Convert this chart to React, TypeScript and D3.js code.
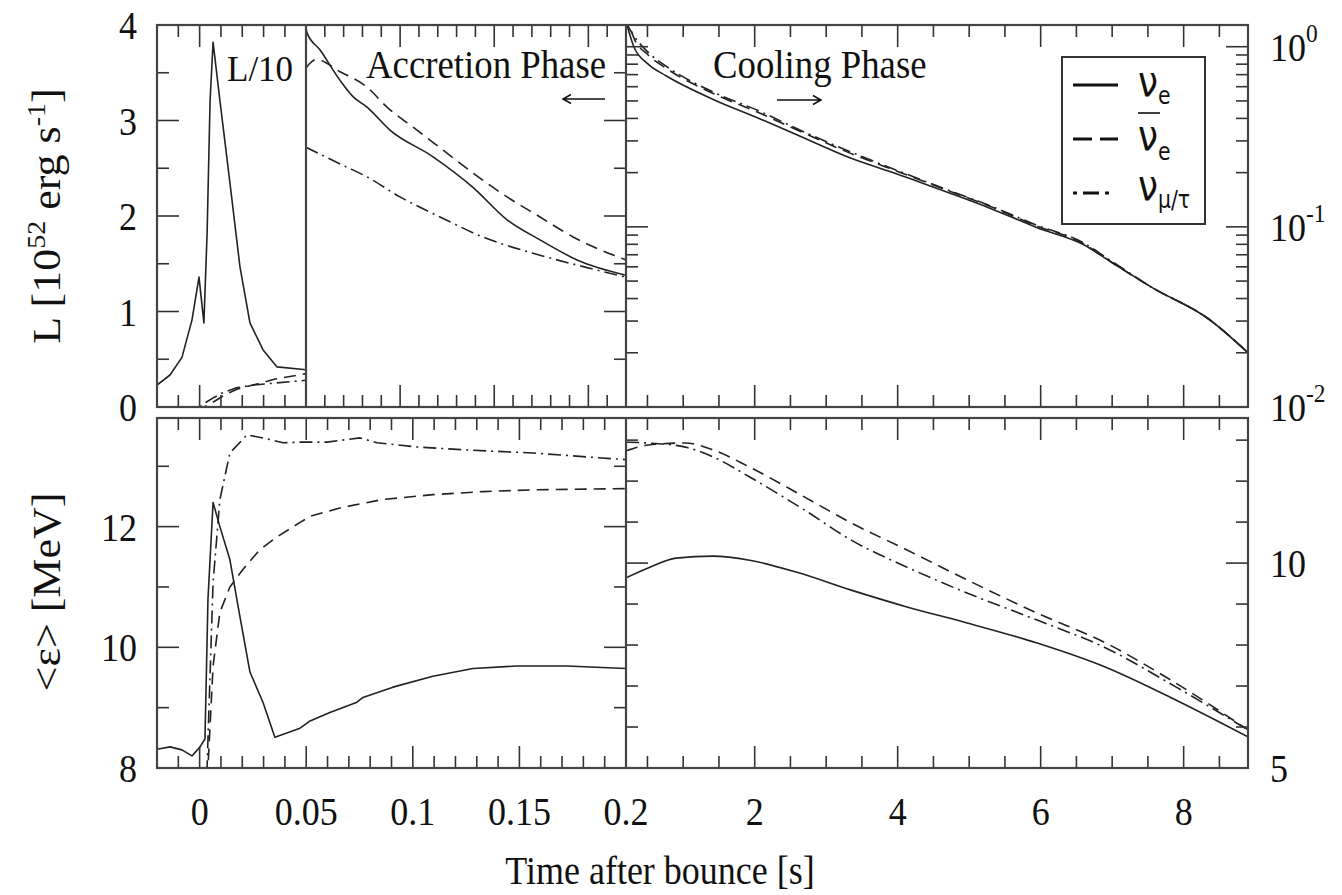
import React from "react";
import * as d3 from "d3";

// ---------------- data ----------------
// Top-left panel (L/10), t [s], L/10 in 1e52 erg/s
const tlNueT = [-0.02, -0.0139, -0.0083, -0.0036, -0.0003, 0.002, 0.0035, 0.0049, 0.0063, 0.0095, 0.0142, 0.0189, 0.0236, 0.0297, 0.0363, 0.05];
const tlNueL = [0.23, 0.335, 0.52, 0.91, 1.36, 0.88, 1.82, 3.21, 3.82, 3.21, 2.35, 1.47, 0.88, 0.6, 0.42, 0.39];
const tlAnueT = [-0.02, 0.002, 0.004, 0.007, 0.012, 0.018, 0.025, 0.035, 0.05];
const tlAnueL = [0, 0, 0.02, 0.06, 0.13, 0.19, 0.23, 0.29, 0.35];
const tlNuxT = [-0.02, 0.0, 0.003, 0.006, 0.01, 0.017, 0.025, 0.035, 0.05];
const tlNuxL = [0, 0, 0.05, 0.09, 0.14, 0.2, 0.23, 0.25, 0.28];

// Top-middle panel (accretion phase)
const tmNueT = [0.05, 0.0505, 0.0574, 0.0681, 0.075, 0.0824, 0.0946, 0.1175, 0.1387, 0.1568, 0.1743, 0.194, 0.22];
const tmNueL = [3.97, 3.92, 3.74, 3.42, 3.25, 3.14, 2.9, 2.62, 2.3, 1.96, 1.75, 1.54, 1.38];
const tmAnueT = [0.05, 0.0521, 0.0555, 0.0681, 0.0824, 0.093, 0.1069, 0.1228, 0.1387, 0.1568, 0.1743, 0.1919, 0.22];
const tmAnueL = [3.55, 3.6, 3.64, 3.51, 3.35, 3.14, 2.93, 2.69, 2.45, 2.2, 1.99, 1.78, 1.54];
const tmNuxT = [0.05, 0.0697, 0.0824, 0.0999, 0.1212, 0.144, 0.1706, 0.1972, 0.22];
const tmNuxL = [2.72, 2.53, 2.41, 2.2, 1.99, 1.78, 1.61, 1.47, 1.36];

// Top-right panel (cooling phase, log axis)
const trT = [0.2, 0.31, 0.51, 0.76, 1.42, 2.06, 2.7, 3.35, 4.0, 4.65, 5.29, 5.95, 6.59, 6.98, 7.56, 8.34, 8.9];
const trNueL = [1.38, 1.0, 0.8, 0.69, 0.51, 0.4, 0.31, 0.24, 0.196, 0.158, 0.127, 0.099, 0.08, 0.064, 0.046, 0.031, 0.02];
const trAnueL = [1.54, 1.12, 0.9, 0.76, 0.55, 0.43, 0.33, 0.255, 0.203, 0.162, 0.13, 0.101, 0.081, 0.064, 0.046, 0.031, 0.02];
const trNuxL = [1.36, 1.15, 0.93, 0.78, 0.56, 0.44, 0.335, 0.26, 0.205, 0.163, 0.131, 0.102, 0.082, 0.065, 0.046, 0.031, 0.02];

// Bottom-left panel (mean energy, MeV)
const blNueT = [-0.02, -0.0139, -0.0083, -0.0036, 0.0002, 0.0025, 0.0039, 0.0063, 0.0095, 0.0142, 0.0189, 0.0236, 0.0297, 0.0353, 0.0471, 0.0518, 0.0611, 0.0738, 0.0766, 0.0907, 0.1094, 0.1282, 0.1488, 0.1723, 0.2];
const blNueE = [8.31, 8.35, 8.3, 8.2, 8.35, 8.48, 10.79, 12.4, 12.0, 11.45, 10.51, 9.59, 9.09, 8.51, 8.66, 8.78, 8.92, 9.09, 9.17, 9.34, 9.52, 9.65, 9.69, 9.69, 9.65];
const blAnueT = [0.0025, 0.0039, 0.0063, 0.0095, 0.0142, 0.0203, 0.0283, 0.0363, 0.0471, 0.0518, 0.0658, 0.086, 0.1094, 0.1329, 0.1564, 0.2];
const blAnueE = [7.5, 8.0, 9.69, 10.58, 11.0, 11.29, 11.62, 11.83, 12.07, 12.17, 12.31, 12.45, 12.53, 12.58, 12.61, 12.63];
const blNuxT = [0.002, 0.0035, 0.0063, 0.0095, 0.0142, 0.0222, 0.0297, 0.0391, 0.0471, 0.0597, 0.0752, 0.0832, 0.102, 0.1254, 0.1564, 0.1798, 0.2];
const blNuxE = [7.5, 8.03, 11.07, 12.45, 13.22, 13.52, 13.47, 13.39, 13.4, 13.4, 13.47, 13.39, 13.32, 13.27, 13.22, 13.16, 13.11];

// Bottom-right panel
const brNueT = [0.2, 0.51, 0.9, 1.42, 1.93, 2.58, 3.35, 4.13, 4.97, 5.95, 6.91, 7.89, 8.9];
const brNueE = [9.64, 9.88, 10.12, 10.17, 10.07, 9.78, 9.34, 8.93, 8.54, 8.05, 7.46, 6.66, 5.76];
const brAnueT = [0.2, 0.51, 1.03, 1.42, 1.93, 2.7, 3.35, 4.13, 4.97, 5.95, 6.91, 7.89, 8.9];
const brAnueE = [12.74, 12.88, 12.93, 12.76, 12.34, 11.61, 10.98, 10.32, 9.59, 8.78, 8.05, 7.07, 5.93];
const brNuxT = [0.2, 0.51, 1.03, 1.42, 1.93, 2.7, 3.35, 4.13, 4.97, 5.95, 6.91, 7.89, 8.9];
const brNuxE = [12.95, 12.93, 12.83, 12.59, 12.1, 11.29, 10.56, 9.9, 9.27, 8.61, 7.93, 6.98, 5.93];

// tick labels
const lumTickLabels = [0, 1, 2, 3, 4];
const logTickExps = [0, -1, -2];
const eLeftTickLabels = [8, 10, 12];
const eRightTickLabels = [10, 5];
const xLeftTickLabels = ["0", "0.05", "0.1", "0.15", "0.2"];
const xLeftTickValues = [0, 0.05, 0.1, 0.15, 0.2];
const xRightTickLabels = [2, 4, 6, 8];

// ---------------- layout ----------------
const W = 1342, H = 895;
const X0 = 157, X1 = 306, X2 = 626, X3 = 1248;
const TY0 = 25, TY1 = 407, BY0 = 418, BY1 = 768;

const xLeft = d3.scaleLinear().domain([-0.02, 0.2]).range([X0, X2]);
const xMid = d3.scaleLinear().domain([0.05, 0.22]).range([X1, X2]);
const xRight = d3.scaleLinear().domain([0.2, 8.9]).range([X2, X3]);
const yLum = d3.scaleLinear().domain([0, 4]).range([TY1, TY0]);
const yLog = d3.scaleLog().domain([0.01, 1.32]).range([TY1, TY0]);
const yEL = d3.scaleLinear().domain([8, 13.8]).range([BY1, BY0]);
const yER = d3.scaleLinear().domain([5, 13.54]).range([BY1, BY0]);

const serif = "'Liberation Serif','Times New Roman',Times,serif";
const sans = "'DejaVu Sans','Liberation Sans',sans-serif";
const INK = "#111";
const LINE = "#222";
const DASH = "12,7";
const DASHDOT = "13,5,2,5";
const MAJ = 22, MIN = 12;

function path(ts: number[], vs: number[], xs: any, ys: any, curve: any) {
  const g = d3.line<number>().x((_, i) => xs(ts[i])).y((_, i) => ys(vs[i])).curve(curve);
  return g(ts) || "";
}

function Txt(props: any) {
  const { x, y, size = 40, anchor = "middle", sx = 0.9, rot = 0, fam = serif, children } = props;
  return (
    <text
      transform={`translate(${x},${y}) scale(${sx},1)${rot ? ` rotate(${rot})` : ""}`}
      fontSize={size}
      textAnchor={anchor}
      fontFamily={fam}
      fill={INK}
    >
      {children}
    </text>
  );
}

export default function App() {
  // x ticks
  const leftTicks = d3.range(-1, 20).map((i) => ({ v: i / 100, major: i % 5 === 0 }));
  const tlTicks = leftTicks.filter((d) => d.v < 0.045);
  const midTicks = d3.range(6, 22).map((i) => ({ v: i / 100, major: i % 5 === 0 }));
  const rightTicks = d3.range(1, 18).map((i) => ({ v: i / 2, major: i % 4 === 0 }));
  // y ticks
  const lumTicks = d3.range(1, 8).map((i) => ({ v: i / 2, major: i % 2 === 0 }));
  const logTicks = [
    ...d3.range(2, 10).map((k) => ({ v: k * 0.01, major: false })),
    { v: 0.1, major: true },
    ...d3.range(2, 10).map((k) => ({ v: k * 0.1, major: false })),
    { v: 1, major: true },
  ];
  const eLTicks = [9, 10, 11, 12, 13].map((v) => ({ v, major: v % 2 === 0 }));
  const eRTicks = d3.range(6, 14).map((v) => ({ v, major: v === 10 }));

  const xTickLines = (ticks: any[], xs: any, top: number, bot: number, key: string) =>
    ticks.map((d, i) => {
      const x = xs(d.v);
      const L = d.major ? MAJ : MIN;
      return (
        <g key={key + i}>
          <line x1={x} x2={x} y1={top} y2={top + L} />
          <line x1={x} x2={x} y1={bot} y2={bot - L} />
        </g>
      );
    });
  const yTickLines = (ticks: any[], ys: any, xEdge: number, dir: number, key: string) =>
    ticks.map((d, i) => {
      const y = ys(d.v);
      const L = d.major ? MAJ : MIN;
      return <line key={key + i} x1={xEdge} x2={xEdge + dir * L} y1={y} y2={y} />;
    });

  const lin = d3.curveLinear;
  const mono = d3.curveMonotoneX;

  return (
    <svg width={W} height={H} style={{ position: "absolute", left: 0, top: 0, background: "#fff" }}>
      <defs>
        <clipPath id="cTL"><rect x={X0} y={TY0} width={X1 - X0} height={TY1 - TY0} /></clipPath>
        <clipPath id="cTM"><rect x={X1} y={TY0} width={X2 - X1} height={TY1 - TY0} /></clipPath>
        <clipPath id="cTR"><rect x={X2} y={TY0} width={X3 - X2} height={TY1 - TY0} /></clipPath>
        <clipPath id="cBL"><rect x={X0} y={BY0} width={X2 - X0} height={BY1 - BY0} /></clipPath>
        <clipPath id="cBR"><rect x={X2} y={BY0} width={X3 - X2} height={BY1 - BY0} /></clipPath>
      </defs>
      <rect x={0} y={0} width={W} height={H} fill="#fff" />

      {/* curves */}
      <g fill="none" stroke={LINE} strokeWidth={1.6} strokeLinejoin="round">
        <g clipPath="url(#cTL)">
          <path d={path(tlNueT, tlNueL, xLeft, yLum, lin)} />
          <path d={path(tlAnueT, tlAnueL, xLeft, yLum, lin)} strokeDasharray={DASH} />
          <path d={path(tlNuxT, tlNuxL, xLeft, yLum, lin)} strokeDasharray={DASHDOT} />
        </g>
        <g clipPath="url(#cTM)">
          <path d={path(tmNueT, tmNueL, xMid, yLum, mono)} />
          <path d={path(tmAnueT, tmAnueL, xMid, yLum, mono)} strokeDasharray={DASH} />
          <path d={path(tmNuxT, tmNuxL, xMid, yLum, mono)} strokeDasharray={DASHDOT} />
        </g>
        <g clipPath="url(#cTR)">
          <path d={path(trT, trNueL, xRight, yLog, mono)} />
          <path d={path(trT, trAnueL, xRight, yLog, mono)} strokeDasharray={DASH} />
          <path d={path(trT, trNuxL, xRight, yLog, mono)} strokeDasharray={DASHDOT} />
        </g>
        <g clipPath="url(#cBL)">
          <path d={path(blNueT, blNueE, xLeft, yEL, lin)} />
          <path d={path(blAnueT, blAnueE, xLeft, yEL, lin)} strokeDasharray={DASH} />
          <path d={path(blNuxT, blNuxE, xLeft, yEL, lin)} strokeDasharray={DASHDOT} />
        </g>
        <g clipPath="url(#cBR)">
          <path d={path(brNueT, brNueE, xRight, yER, mono)} />
          <path d={path(brAnueT, brAnueE, xRight, yER, mono)} strokeDasharray={DASH} />
          <path d={path(brNuxT, brNuxE, xRight, yER, mono)} strokeDasharray={DASHDOT} />
        </g>
      </g>

      {/* ticks */}
      <g stroke="#333" strokeWidth={1.6}>
        {xTickLines(tlTicks, xLeft, TY0, TY1, "tl")}
        {xTickLines(midTicks, xMid, TY0, TY1, "tm")}
        {xTickLines(rightTicks, xRight, TY0, TY1, "tr")}
        {xTickLines(leftTicks, xLeft, BY0, BY1, "bl")}
        {xTickLines(rightTicks, xRight, BY0, BY1, "br")}
        {yTickLines(lumTicks, yLum, X0, 1, "yl1")}
        {yTickLines(lumTicks, yLum, X2, -1, "yl2")}
        {yTickLines(logTicks, yLog, X2, 1, "yg1")}
        {yTickLines(logTicks, yLog, X3, -1, "yg2")}
        {yTickLines(eLTicks, yEL, X0, 1, "ye1")}
        {yTickLines(eLTicks, yEL, X2, -1, "ye2")}
        {yTickLines(eRTicks, yER, X2, 1, "yr1")}
        {yTickLines(eRTicks, yER, X3, -1, "yr2")}
      </g>

      {/* frames */}
      <g fill="none" stroke="#444" strokeWidth={2.2}>
        <rect x={X0} y={TY0} width={X3 - X0} height={TY1 - TY0} />
        <line x1={X1} x2={X1} y1={TY0} y2={TY1} />
        <line x1={X2} x2={X2} y1={TY0} y2={TY1} />
        <rect x={X0} y={BY0} width={X3 - X0} height={BY1 - BY0} />
        <line x1={X2} x2={X2} y1={BY0} y2={BY1} />
      </g>

      {/* y tick labels */}
      {lumTickLabels.map((v) => (
        <Txt key={"ll" + v} x={137} y={yLum(v) + 14} anchor="end">{v}</Txt>
      ))}
      {eLeftTickLabels.map((v) => (
        <Txt key={"el" + v} x={137} y={yEL(v) + 14} anchor="end">{v}</Txt>
      ))}
      {logTickExps.map((e) => (
        <Txt key={"lg" + e} x={1270} y={yLog(Math.pow(10, e)) + 14} anchor="start">
          10<tspan dy={-19} fontSize={26}>{e}</tspan>
        </Txt>
      ))}
      {eRightTickLabels.map((v) => (
        <Txt key={"er" + v} x={1270} y={yER(v) + 14} anchor="start">{v}</Txt>
      ))}

      {/* x tick labels */}
      {xLeftTickValues.map((v, i) => (
        <Txt key={"xl" + i} x={xLeft(v)} y={825}>{xLeftTickLabels[i]}</Txt>
      ))}
      {xRightTickLabels.map((v) => (
        <Txt key={"xr" + v} x={xRight(v)} y={825}>{v}</Txt>
      ))}

      {/* axis titles */}
      <Txt x={660} y={884}>Time after bounce [s]</Txt>
      <Txt x={60} y={216} rot={-90} size={44}>
        L [10<tspan dy={-17} fontSize={28}>52</tspan>
        <tspan dy={17}> erg s</tspan>
        <tspan dy={-17} fontSize={28}>-1</tspan>
        <tspan dy={17}>]</tspan>
      </Txt>
      <Txt x={60} y={592} rot={-90} size={44}>&lt;ε&gt; [MeV]</Txt>

      {/* annotations */}
      <Txt x={227} y={81} anchor="start" size={35} sx={1}>L/10</Txt>
      <Txt x={366} y={78} anchor="start" sx={0.92}>Accretion Phase</Txt>
      <Txt x={713} y={78} anchor="start" sx={0.92}>Cooling Phase</Txt>
      <g stroke={INK} strokeWidth={1.5} fill="none">
        <path d="M605,99 L563,99 M571,94.5 L563,99 L571,103.5" />
        <path d="M777,100 L821,100 M813,95.5 L821,100 L813,104.5" />
      </g>

      {/* legend */}
      <rect x={1062} y={57} width={143} height={167} fill="#fff" stroke="#333" strokeWidth={2} />
      <g stroke="#111" strokeWidth={3}>
        <line x1={1073} x2={1118} y1={85} y2={85} />
        <line x1={1073} x2={1118} y1={139} y2={139} strokeDasharray="19,8" />
        <line x1={1073} x2={1118} y1={193} y2={193} strokeDasharray="4,6,16,6,4,40" />
      </g>
      <Txt x={1138} y={96} anchor="start" size={42} sx={0.85} fam={sans}>
        ν<tspan dy={8} fontSize={24}>e</tspan>
      </Txt>
      <line x1={1138} x2={1160} y1={113} y2={113} stroke="#111" strokeWidth={1.6} />
      <Txt x={1138} y={150} anchor="start" size={42} sx={0.85} fam={sans}>
        ν<tspan dy={10} fontSize={24}>e</tspan>
      </Txt>
      <Txt x={1138} y={200} anchor="start" size={42} sx={0.85} fam={sans}>
        ν<tspan dy={8} fontSize={24}>μ/τ</tspan>
      </Txt>
    </svg>
  );
}
